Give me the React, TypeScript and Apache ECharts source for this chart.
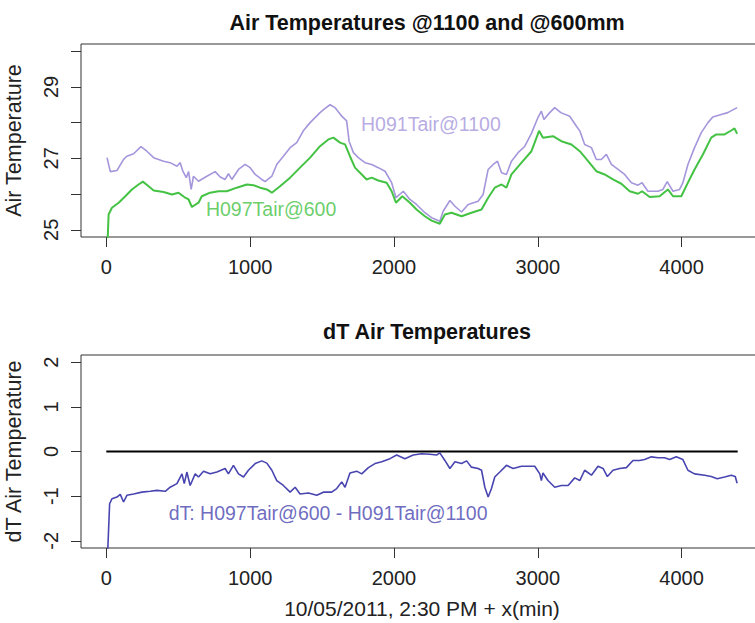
import React, { useEffect, useRef } from "react";
import * as echarts from "echarts";

// ---- data ----
const h091X = [5, 28, 74, 120, 143, 190, 241, 282, 329, 398, 444, 491, 514, 532, 556, 572, 590, 606, 641, 699, 757, 792, 826, 849, 873, 919, 965, 1000, 1035, 1081, 1104, 1151, 1185, 1231, 1278, 1324, 1370, 1417, 1486, 1521, 1556, 1590, 1637, 1671, 1688, 1718, 1752, 1799, 1845, 1891, 1938, 1984, 2014, 2065, 2111, 2157, 2215, 2262, 2319, 2342, 2389, 2424, 2470, 2516, 2585, 2620, 2655, 2690, 2720, 2748, 2782, 2817, 2863, 2910, 2956, 3002, 3025, 3043, 3083, 3118, 3160, 3222, 3269, 3292, 3326, 3373, 3407, 3442, 3477, 3512, 3558, 3604, 3651, 3697, 3725, 3766, 3836, 3870, 3900, 3940, 3986, 4009, 4044, 4090, 4137, 4183, 4217, 4275, 4321, 4386];
const h091Y = [27.02, 26.63, 26.66, 26.97, 27.06, 27.13, 27.33, 27.2, 27.02, 26.92, 26.88, 26.78, 26.88, 26.64, 26.46, 26.63, 26.13, 26.5, 26.36, 26.5, 26.63, 26.48, 26.41, 26.57, 26.41, 26.69, 26.83, 26.74, 26.55, 26.41, 26.35, 26.5, 26.83, 27.06, 27.3, 27.44, 27.77, 28.0, 28.28, 28.4, 28.5, 28.42, 28.18, 28.05, 27.48, 27.16, 27.02, 26.88, 26.83, 26.74, 26.64, 26.32, 25.9, 26.08, 25.85, 25.71, 25.48, 25.34, 25.24, 25.52, 25.82, 25.66, 25.5, 25.71, 25.8, 25.99, 26.69, 26.83, 26.92, 26.6, 26.55, 26.92, 27.16, 27.34, 27.7, 28.15, 28.32, 28.09, 28.28, 28.42, 28.28, 28.18, 27.9, 27.77, 27.39, 27.3, 26.97, 26.97, 27.11, 26.83, 26.69, 26.55, 26.32, 26.25, 26.32, 26.08, 26.08, 26.13, 26.35, 26.08, 26.13, 26.32, 26.83, 27.3, 27.72, 28.0, 28.16, 28.23, 28.28, 28.42];

const h097X = [9, 16, 39, 86, 132, 178, 224, 254, 294, 329, 398, 456, 502, 549, 572, 595, 641, 664, 722, 780, 838, 907, 977, 1023, 1069, 1116, 1151, 1208, 1278, 1347, 1417, 1486, 1544, 1579, 1625, 1660, 1694, 1729, 1776, 1810, 1845, 1891, 1949, 1984, 2014, 2058, 2111, 2157, 2215, 2262, 2319, 2354, 2400, 2470, 2539, 2609, 2655, 2701, 2748, 2782, 2817, 2887, 2956, 3009, 3036, 3106, 3164, 3234, 3292, 3350, 3407, 3465, 3523, 3581, 3639, 3697, 3725, 3778, 3847, 3877, 3905, 3940, 3998, 4044, 4090, 4148, 4206, 4241, 4299, 4345, 4368, 4386];
const h097Y = [24.7, 25.43, 25.62, 25.76, 25.94, 26.13, 26.27, 26.35, 26.22, 26.1, 26.06, 25.99, 26.04, 25.9, 25.85, 25.64, 25.76, 25.94, 26.04, 26.08, 26.08, 26.18, 26.27, 26.25, 26.18, 26.13, 26.04, 26.22, 26.46, 26.74, 27.02, 27.34, 27.53, 27.58, 27.44, 27.39, 27.06, 26.74, 26.55, 26.41, 26.46, 26.38, 26.32, 26.08, 25.76, 25.94, 25.76, 25.57, 25.38, 25.26, 25.17, 25.43, 25.48, 25.38, 25.48, 25.57, 25.9, 26.18, 26.27, 26.18, 26.55, 26.88, 27.2, 27.77, 27.58, 27.62, 27.48, 27.39, 27.2, 26.92, 26.64, 26.55, 26.41, 26.29, 26.08, 26.01, 26.08, 25.92, 25.94, 26.04, 26.13, 25.94, 25.94, 26.32, 26.69, 27.11, 27.58, 27.67, 27.67, 27.78, 27.84, 27.69];

const dtX = [9, 23, 39, 74, 97, 120, 143, 190, 247, 306, 352, 410, 444, 491, 526, 542, 560, 583, 618, 641, 676, 722, 769, 826, 849, 884, 919, 954, 988, 1035, 1081, 1116, 1151, 1185, 1231, 1278, 1313, 1347, 1405, 1463, 1509, 1567, 1602, 1637, 1660, 1694, 1741, 1776, 1822, 1868, 1915, 1972, 2019, 2076, 2134, 2192, 2250, 2296, 2319, 2354, 2389, 2424, 2470, 2505, 2539, 2585, 2609, 2632, 2655, 2678, 2701, 2736, 2782, 2829, 2887, 2944, 2979, 3014, 3025, 3036, 3071, 3118, 3164, 3211, 3257, 3292, 3326, 3373, 3419, 3454, 3484, 3523, 3569, 3616, 3662, 3708, 3743, 3790, 3836, 3882, 3917, 3963, 4009, 4044, 4090, 4160, 4206, 4248, 4299, 4345, 4373, 4386];
const dtY = [-2.3, -1.17, -1.06, -1.02, -0.96, -1.13, -0.98, -0.95, -0.91, -0.89, -0.87, -0.89, -0.8, -0.72, -0.5, -0.72, -0.46, -0.76, -0.5, -0.57, -0.44, -0.5, -0.46, -0.38, -0.5, -0.31, -0.5, -0.57, -0.42, -0.27, -0.21, -0.26, -0.42, -0.65, -0.76, -0.91, -0.8, -0.95, -0.93, -0.98, -0.91, -0.91, -0.83, -0.68, -0.8, -0.48, -0.44, -0.5, -0.36, -0.27, -0.23, -0.16, -0.08, -0.16, -0.08, -0.05, -0.06, -0.08, -0.03, -0.2, -0.38, -0.23, -0.27, -0.21, -0.35, -0.38, -0.42, -0.8, -1.02, -0.83, -0.57, -0.46, -0.31, -0.38, -0.33, -0.33, -0.33, -0.5, -0.65, -0.48, -0.65, -0.8, -0.76, -0.76, -0.59, -0.65, -0.42, -0.53, -0.33, -0.38, -0.56, -0.42, -0.38, -0.36, -0.2, -0.2, -0.18, -0.12, -0.14, -0.14, -0.18, -0.12, -0.18, -0.42, -0.5, -0.53, -0.56, -0.61, -0.57, -0.53, -0.56, -0.71];

const zeroX = [0, 4390];
const zeroY = [0, 0];

const xTicks = [0, 1000, 2000, 3000, 4000];
const topYTicks = [25, 26, 27, 28, 29, 30];
const topYLabels = [25, 27, 29];
const botYTicks = [-2, -1, 0, 1, 2];

const labelH091 = { x: 2257, y: 27.95, text: "H091Tair@1100" };
const labelH097 = { x: 1146, y: 25.57, text: "H097Tair@600" };
const labelDt = { x: 1542, y: -1.37, text: "dT: H097Tair@600 - H091Tair@1100" };

const titles = ["Air Temperatures @1100 and @600mm", "dT Air Temperatures"];
const yNames = ["Air Temperature", "dT Air Temperature"];
const xName = "10/05/2011, 2:30 PM + x(min)";

const PURPLE = "#a596dc";
const GREEN = "#44c244";
const BLUE = "#4845b0";
const FONT = "Liberation Sans, Arial, Helvetica, sans-serif";

const pairs = (xs: number[], ys: number[]) => xs.map((x, i) => [x, ys[i]]);
const plain = (v: number) => String(v);

export default function App() {
  const ref = useRef<HTMLDivElement>(null);
  useEffect(() => {
    document.body.style.margin = "0";
    const chart = echarts.init(ref.current!, null, { renderer: "svg" });
    const xAxisBase = (gridIndex: number, withName: boolean) => ({
      type: "value",
      gridIndex,
      min: -176,
      max: 4566,
      splitLine: { show: false },
      axisLine: { show: false, onZero: false },
      axisTick: { show: true, length: 10, inside: false, customValues: xTicks, lineStyle: { color: "#333", width: 1 } },
      axisLabel: { customValues: xTicks, formatter: plain, fontSize: 20, color: "#222", fontFamily: FONT, margin: 20 },
      name: withName ? xName : "",
      nameLocation: "middle",
      nameGap: 50,
      nameTextStyle: { fontSize: 21, color: "#222", fontFamily: FONT },
    });
    const yAxisBase = (gridIndex: number, min: number, max: number, ticks: number[], labels: number[], name: string) => ({
      type: "value",
      gridIndex,
      min,
      max,
      splitLine: { show: false },
      axisLine: { show: false, onZero: false },
      axisTick: { show: true, length: 10, inside: false, customValues: ticks, lineStyle: { color: "#333", width: 1 } },
      axisLabel: { customValues: labels, formatter: plain, rotate: 90, fontSize: 20, color: "#222", fontFamily: FONT, margin: 20 },
      name,
      nameLocation: "middle",
      nameRotate: 90,
      nameGap: 56,
      nameTextStyle: { fontSize: 21.5, color: "#222", fontFamily: FONT },
    });
    const textSeries = (xi: number, lbl: { x: number; y: number; text: string }, color: string) => ({
      type: "scatter",
      xAxisIndex: xi,
      yAxisIndex: xi,
      symbolSize: 0,
      silent: true,
      data: [[lbl.x, lbl.y]],
      label: {
        show: true,
        position: "inside",
        formatter: lbl.text,
        color,
        fontSize: 19.5,
        fontFamily: FONT,
      },
    });
    const gridBase = { left: 81, width: 682, height: 193, show: true, borderColor: "#333", borderWidth: 1, backgroundColor: "transparent", containLabel: false, outerBoundsMode: "none" };
    chart.setOption({
      animation: false,
      backgroundColor: "#ffffff",
      title: [
        { text: titles[0], left: 422, top: 7, textAlign: "center", textStyle: { fontSize: 21.5, fontWeight: "bold", color: "#111", fontFamily: FONT } },
        { text: titles[1], left: 422, top: 316, textAlign: "center", textStyle: { fontSize: 21.5, fontWeight: "bold", color: "#111", fontFamily: FONT } },
      ],
      grid: [
        { ...gridBase, top: 44 },
        { ...gridBase, top: 355 },
      ],
      xAxis: [xAxisBase(0, false), xAxisBase(1, true)],
      yAxis: [
        yAxisBase(0, 24.8, 30.2, topYTicks, topYLabels, yNames[0]),
        yAxisBase(1, -2.16, 2.16, botYTicks, botYTicks, yNames[1]),
      ],
      series: [
        { type: "line", xAxisIndex: 0, yAxisIndex: 0, data: pairs(h091X, h091Y), showSymbol: false, lineStyle: { color: PURPLE, width: 1.6 }, clip: true },
        { type: "line", xAxisIndex: 0, yAxisIndex: 0, data: pairs(h097X, h097Y), showSymbol: false, lineStyle: { color: GREEN, width: 2 }, clip: true },
        { type: "line", xAxisIndex: 1, yAxisIndex: 1, data: pairs(zeroX, zeroY), showSymbol: false, lineStyle: { color: "#000", width: 2 }, clip: true },
        { type: "line", xAxisIndex: 1, yAxisIndex: 1, data: pairs(dtX, dtY), showSymbol: false, lineStyle: { color: BLUE, width: 1.6 }, clip: true },
        textSeries(0, labelH091, PURPLE),
        textSeries(0, labelH097, GREEN),
        textSeries(1, labelDt, BLUE),
      ],
    });
    return () => chart.dispose();
  }, []);
  return <div ref={ref} style={{ width: 755, height: 623 }} />;
}
